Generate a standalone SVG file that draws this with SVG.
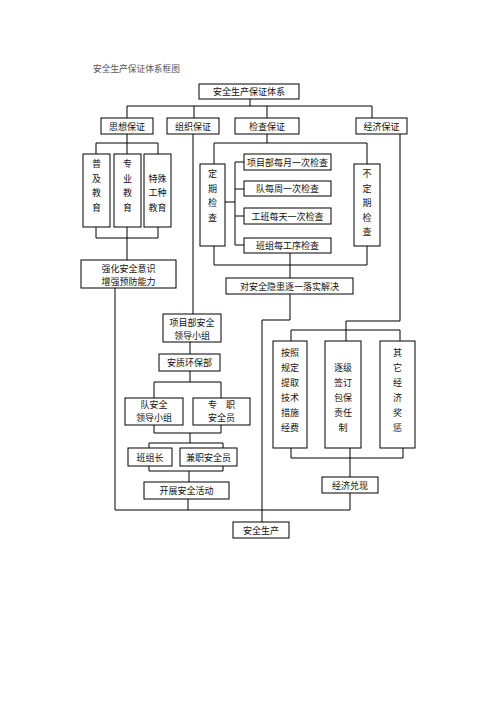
<svg xmlns="http://www.w3.org/2000/svg" width="496" height="702" viewBox="0 0 496 702">
<style>
.b{fill:#fff;stroke:#000;stroke-width:1}
.t{font-family:"Noto Sans CJK SC","Noto Sans",sans-serif;font-size:9px;fill:#111;text-anchor:middle;dominant-baseline:central}
.c{fill:none;stroke:#000;stroke-width:1}
.title{font-family:"Liberation Serif","Noto Sans CJK SC",serif;font-size:8.7px;fill:#555}
</style>
<rect width="496" height="702" fill="#fff"/>
<text class="title" x="93" y="72">安全生产保证体系框图</text>
<g id="connectors" class="c">
<path d="M250 99V106M127 106H372M127 106V118M194 106V118M267 106V118M372 106V118"/>
<path d="M127 134V143M96 143H158M96 143V154M127 143V154M158 143V154"/>
<path d="M96 227V238M127 227V260M158 227V238M96 238H158"/>
<path d="M115 288V510"/>
<path d="M193 134V314M190 342V354M190 371V382M154 382H221M154 382V398M221 382V398"/>
<path d="M154 425V433M221 425V433M154 433H221M190 433V443M149 443H223M149 443V448M223 443V448"/>
<path d="M149 466V471M223 466V471M149 471H223M189 471V482M188 499V510"/>
<path d="M267 134V143M214 143H367M214 143V164M367 143V164"/>
<path d="M225 202H235M235 162V245M235 162H244M235 189H244M235 216H244M235 245H244"/>
<path d="M214 246V265M367 246V265M214 265H367M290 253V278"/>
<path d="M290 294V320H262V522"/>
<path d="M400 134V321H346V330M291 330H400M291 330V341M346 330V341M400 330V341"/>
<path d="M291 448V458M350 448V477M403 448V458M291 458H403M350 493V510M115 510H350"/>
</g>
<g id="n-root"><rect class="b" x="199" y="84" width="100" height="15"/><text class="t" x="249" y="91.5">安全生产保证体系</text></g>
<g id="n-sixiang"><rect class="b" x="101" y="118" width="52" height="16"/><text class="t" x="127" y="126">思想保证</text></g>
<g id="n-zuzhi"><rect class="b" x="167" y="118" width="52" height="16"/><text class="t" x="193" y="126">组织保证</text></g>
<g id="n-jiancha"><rect class="b" x="235" y="118" width="64" height="16"/><text class="t" x="267" y="126">检查保证</text></g>
<g id="n-jingji"><rect class="b" x="356" y="118" width="51" height="16"/><text class="t" x="381.5" y="126">经济保证</text></g>
<g id="n-puji"><rect class="b" x="83" y="154" width="27" height="73"/><text class="t" x="96.5" y="163">普</text><text class="t" x="96.5" y="178">及</text><text class="t" x="96.5" y="192">教</text><text class="t" x="96.5" y="207">育</text></g>
<g id="n-zhuanye"><rect class="b" x="114" y="154" width="27" height="73"/><text class="t" x="127.5" y="163">专</text><text class="t" x="127.5" y="178">业</text><text class="t" x="127.5" y="192">教</text><text class="t" x="127.5" y="207">育</text></g>
<g id="n-teshu"><rect class="b" x="144" y="154" width="27" height="73"/><text class="t" x="157.5" y="178">特殊</text><text class="t" x="157.5" y="192">工种</text><text class="t" x="157.5" y="207">教育</text></g>
<g id="n-qianghua"><rect class="b" x="81" y="260" width="95" height="28"/><text class="t" x="128.5" y="268">强化安全意识</text><text class="t" x="128.5" y="281">增强预防能力</text></g>
<g id="n-dingqi"><rect class="b" x="200" y="164" width="25" height="82"/><text class="t" x="212.5" y="173">定</text><text class="t" x="212.5" y="188">期</text><text class="t" x="212.5" y="202">检</text><text class="t" x="212.5" y="217">查</text></g>
<g id="n-budingqi"><rect class="b" x="354" y="164" width="26" height="82"/><text class="t" x="367" y="173">不</text><text class="t" x="367" y="188">定</text><text class="t" x="367" y="202">期</text><text class="t" x="367" y="217">检</text><text class="t" x="367" y="231">查</text></g>
<g id="n-xiangmu"><rect class="b" x="244" y="154" width="87" height="16"/><text class="t" x="287.5" y="162">项目部每月一次检查</text></g>
<g id="n-dui"><rect class="b" x="244" y="181" width="87" height="15"/><text class="t" x="287.5" y="188.5">队每周一次检查</text></g>
<g id="n-gongban"><rect class="b" x="244" y="208" width="87" height="16"/><text class="t" x="287.5" y="216">工班每天一次检查</text></g>
<g id="n-banzu"><rect class="b" x="244" y="238" width="87" height="15"/><text class="t" x="287.5" y="245.5">班组每工序检查</text></g>
<g id="n-duianquan"><rect class="b" x="226" y="278" width="127" height="16"/><text class="t" x="289.5" y="286">对安全隐患逐一落实解决</text></g>
<g id="n-xmb"><rect class="b" x="163" y="314" width="58" height="28"/><text class="t" x="192" y="322">项目部安全</text><text class="t" x="192" y="335">领导小组</text></g>
<g id="n-anzhi"><rect class="b" x="159" y="354" width="61" height="17"/><text class="t" x="189.5" y="362.5">安质环保部</text></g>
<g id="n-duianquanxz"><rect class="b" x="125" y="398" width="58" height="27"/><text class="t" x="154" y="404.5">队安全</text><text class="t" x="154" y="417.5">领导小组</text></g>
<g id="n-zhuanzhi"><rect class="b" x="193" y="398" width="57" height="27"/><text class="t" x="221.5" y="404.5" xml:space="preserve">专　职</text><text class="t" x="221.5" y="417.5">安全员</text></g>
<g id="n-banzuzhang"><rect class="b" x="128" y="448" width="44" height="18"/><text class="t" x="150" y="457">班组长</text></g>
<g id="n-jianzhi"><rect class="b" x="180" y="448" width="57" height="18"/><text class="t" x="208.5" y="457">兼职安全员</text></g>
<g id="n-kaizhan"><rect class="b" x="144" y="482" width="85" height="17"/><text class="t" x="186.5" y="490.5">开展安全活动</text></g>
<g id="n-anzhao"><rect class="b" x="273" y="341" width="34" height="107"/><text class="t" x="290" y="352">按照</text><text class="t" x="290" y="367">规定</text><text class="t" x="290" y="382">提取</text><text class="t" x="290" y="397">技术</text><text class="t" x="290" y="412">措施</text><text class="t" x="290" y="427">经费</text></g>
<g id="n-zhuji"><rect class="b" x="325" y="341" width="36" height="107"/><text class="t" x="343" y="367">逐级</text><text class="t" x="343" y="382">签订</text><text class="t" x="343" y="397">包保</text><text class="t" x="343" y="412">责任</text><text class="t" x="343" y="427">制</text></g>
<g id="n-qita"><rect class="b" x="380" y="341" width="35" height="107"/><text class="t" x="397.5" y="352">其</text><text class="t" x="397.5" y="367">它</text><text class="t" x="397.5" y="382">经</text><text class="t" x="397.5" y="397">济</text><text class="t" x="397.5" y="412">奖</text><text class="t" x="397.5" y="427">惩</text></g>
<g id="n-duixian"><rect class="b" x="322" y="477" width="56" height="16"/><text class="t" x="350" y="485">经济兑现</text></g>
<g id="n-anquanshengchan"><rect class="b" x="233" y="522" width="56" height="16"/><text class="t" x="261" y="530">安全生产</text></g>
</svg>
